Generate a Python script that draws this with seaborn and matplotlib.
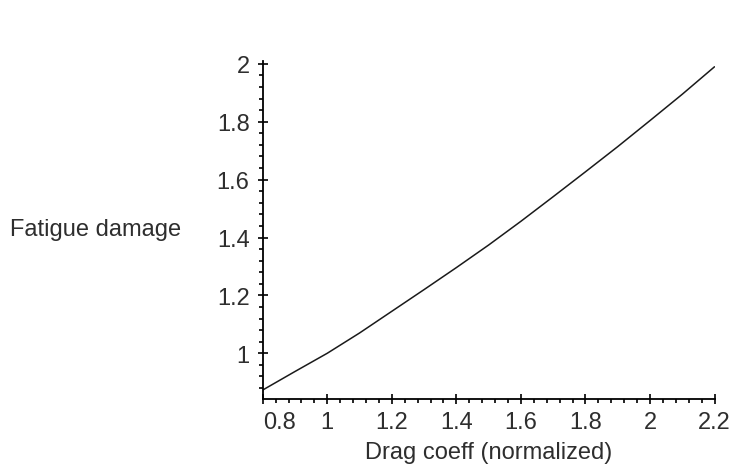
import matplotlib
matplotlib.use("Agg")
import matplotlib.pyplot as plt
from matplotlib.ticker import AutoMinorLocator
import seaborn as sns
import pandas as pd

# Normalized drag coefficient and resulting normalized fatigue damage
drag_coeff = [0.8, 0.9, 1.0, 1.1, 1.2, 1.3, 1.4, 1.5, 1.6, 1.7, 1.8, 1.9, 2.0, 2.1, 2.2]
fatigue_damage = [0.873, 0.937, 1.000, 1.070, 1.145, 1.220, 1.296, 1.374,
                  1.456, 1.541, 1.627, 1.714, 1.804, 1.895, 1.990]

x_ticks = [0.8, 1.0, 1.2, 1.4, 1.6, 1.8, 2.0, 2.2]
x_tick_labels = ["0.8", "1", "1.2", "1.4", "1.6", "1.8", "2", "2.2"]
y_ticks = [1.0, 1.2, 1.4, 1.6, 1.8, 2.0]
y_tick_labels = ["1", "1.2", "1.4", "1.6", "1.8", "2"]

sns.set_theme(style="white")
plt.rcParams["font.family"] = ["Liberation Sans", "DejaVu Sans"]

ink = "#2e2e2e"
fs = 17

df = pd.DataFrame({"drag": drag_coeff, "damage": fatigue_damage})

fig = plt.figure(figsize=(7.31, 4.77), dpi=100)
ax = fig.add_axes([262.7 / 731, 77 / 477, (714.5 - 262.7) / 731, (400 - 62) / 477])

sns.lineplot(data=df, x="drag", y="damage", ax=ax, color="#1a1a1a", linewidth=1.1)

ax.set_xlim(0.8, 2.2)
ax.set_ylim(0.842, 2.010)

ax.set_xticks(x_ticks)
ax.set_xticklabels(x_tick_labels)
ax.set_yticks(y_ticks)
ax.set_yticklabels(y_tick_labels)
ax.xaxis.set_minor_locator(AutoMinorLocator(5))
ax.yaxis.set_minor_locator(AutoMinorLocator(5))

# first x label sits to the right of the vertical axis
ax.get_xticklabels()[0].set_horizontalalignment("left")

for side in ("top", "right"):
    ax.spines[side].set_visible(False)
for side in ("left", "bottom"):
    ax.spines[side].set_color("black")
    ax.spines[side].set_linewidth(1.3)

ax.tick_params(which="major", direction="inout", length=7, width=1.2,
               color="black", labelsize=fs, labelcolor=ink)
ax.tick_params(which="minor", direction="out", length=3, width=1.2, color="black")
ax.tick_params(axis="y", which="major", pad=6)
ax.tick_params(axis="x", which="major", pad=5)
ax.tick_params(which="both", bottom=True, left=True)

ax.set_xlabel("Drag coeff (normalized)", fontsize=fs, color=ink, labelpad=6)
ax.set_ylabel("")

fig.text(10 / 731, 1 - 230 / 477, "Fatigue damage", fontsize=fs, color=ink,
         ha="left", va="center")

fig.savefig("out.png", dpi=100, facecolor="white")
